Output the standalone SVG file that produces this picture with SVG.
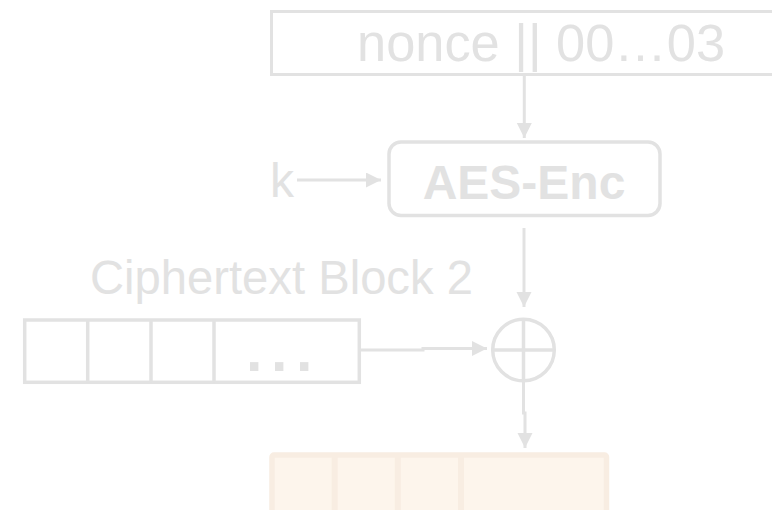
<svg xmlns="http://www.w3.org/2000/svg" width="772" height="510" viewBox="0 0 772 510">
  <style>
    .box { fill: none; stroke: #e2e2e2; stroke-width: 3.5; }
    .wire { fill: none; stroke: #e2e2e2; stroke-width: 3; }
    .lbl { font-family: "Liberation Sans", Arial, sans-serif; fill: #e2e2e2; }
    .out { fill: #fdf5ec; stroke: #f8ede2; stroke-width: 5.5; }
    .outdiv { stroke: #f8ede2; stroke-width: 6; }
  </style>
  <defs>
    <marker id="arrow" markerUnits="userSpaceOnUse" markerWidth="16" markerHeight="16" refX="15" refY="7.5" orient="auto">
      <path d="M0,0 L15,7.5 L0,15 Z" fill="#e2e2e2"/>
    </marker>
  </defs>
  <rect width="772" height="510" fill="#ffffff"/>

  <!-- counter block input -->
  <g id="counter">
    <rect class="box" x="271.5" y="11.5" width="510" height="63" style="stroke-width:3"/>
    <text class="lbl" x="357" y="61" font-size="52.4">nonce || 00…03</text>
  </g>

  <!-- block cipher -->
  <g id="aes">
    <rect class="box" x="389" y="142" width="271" height="73.5" rx="12"/>
    <text class="lbl" x="524" y="199" font-size="48" font-weight="bold" text-anchor="middle">AES-Enc</text>
  </g>

  <!-- key input -->
  <g id="key">
    <text class="lbl" x="270" y="197" font-size="48">k</text>
  </g>

  <!-- ciphertext block -->
  <g id="ciphertext">
    <text class="lbl" x="90" y="294" font-size="47.2">Ciphertext Block 2</text>
    <rect class="box" x="24.7" y="320" width="334.6" height="62.3"/>
    <line class="box" x1="87.7" y1="320" x2="87.7" y2="382.3"/>
    <line class="box" x1="151" y1="320" x2="151" y2="382.3"/>
    <line class="box" x1="214" y1="320" x2="214" y2="382.3"/>
    <text class="lbl" x="246" y="371" font-size="59" font-weight="bold" letter-spacing="8.6">...</text>
  </g>

  <!-- xor -->
  <g id="xor">
    <circle class="box" cx="523.5" cy="350" r="30.8"/>
    <line class="box" x1="492.7" y1="350" x2="554.3" y2="350"/>
    <line class="box" x1="523.5" y1="319.2" x2="523.5" y2="380.8"/>
  </g>

  <!-- plaintext output block -->
  <g id="output">
    <rect class="out" x="272" y="455" width="334.5" height="80" rx="2"/>
    <line class="outdiv" x1="334.7" y1="457" x2="334.7" y2="515"/>
    <line class="outdiv" x1="397.8" y1="457" x2="397.8" y2="515"/>
    <line class="outdiv" x1="461" y1="457" x2="461" y2="515"/>
  </g>

  <!-- connectors -->
  <g id="connectors">
    <path class="wire" d="M524.3,76 V138" marker-end="url(#arrow)"/>
    <path class="wire" d="M297,180 H381" marker-end="url(#arrow)"/>
    <path class="wire" d="M524,228 V307" marker-end="url(#arrow)"/>
    <path class="wire" d="M361,350 H423 V348.5 H487" marker-end="url(#arrow)"/>
    <path class="wire" d="M523.5,381 V413 H525 V448" marker-end="url(#arrow)"/>
  </g>
</svg>
